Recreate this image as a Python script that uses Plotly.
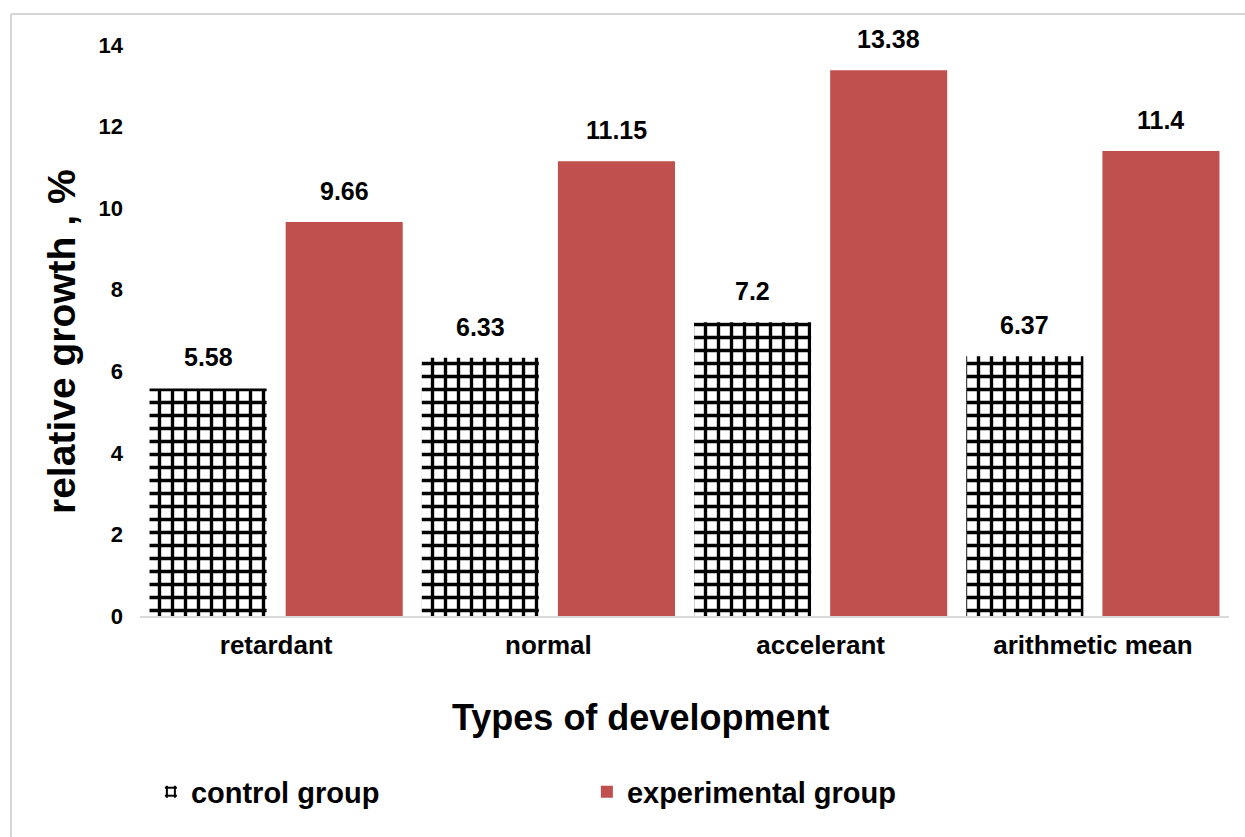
import plotly.graph_objects as go

categories = ["retardant", "normal", "accelerant", "arithmetic mean"]
control = [5.58, 6.33, 7.2, 6.37]
experimental = [9.66, 11.15, 13.38, 11.4]
series_names = ["control group", "experimental group"]
y_ticks = [0, 2, 4, 6, 8, 10, 12, 14]
x_title = "Types of development"
y_title = "relative growth , %"

W, H = 1245, 837
L, R, T, B = 140, 16, 45, 221
FONT = "Liberation Sans, Arial, sans-serif"
RED = "#C0504D"

fig = go.Figure()
fig.add_trace(go.Bar(
    x=categories, y=control, name=series_names[0],
    marker=dict(color="white", line=dict(width=0),
                pattern=dict(shape="+", fgcolor="black", bgcolor="white",
                             size=13, solidity=0.45, fillmode="replace")),
))
fig.add_trace(go.Bar(
    x=categories, y=experimental, name=series_names[1],
    marker=dict(color=RED, line=dict(width=0)),
))

plot_w = W - L - R
plot_h = H - T - B
slot = plot_w / len(categories) / 2
annotations = []
for vals, sh in ((control, -slot / 2), (experimental, slot / 2)):
    for c, v in zip(categories, vals):
        annotations.append(dict(
            x=c, y=v, xref="x", yref="y", text=str(v), showarrow=False,
            xshift=sh, yshift=15, yanchor="bottom",
            font=dict(family=FONT, size=25, color="black", weight="bold"),
        ))

annotations.append(dict(
    text=x_title, xref="paper", yref="paper",
    x=(640 - L) / plot_w, y=-(717 - (H - B)) / plot_h,
    xanchor="center", yanchor="middle", showarrow=False,
    font=dict(family=FONT, size=36, color="black", weight="bold"),
))
annotations.append(dict(
    text=y_title, xref="paper", yref="paper", textangle=-90,
    x=(62 - L) / plot_w, y=((H - B) - 342) / plot_h,
    xanchor="center", yanchor="middle", showarrow=False,
    font=dict(family=FONT, size=39, color="black", weight="bold"),
))

top_y = (H - B - 14) / plot_h
left_x = (11 - L) / plot_w
shapes = [
    dict(type="line", xref="paper", yref="paper",
         x0=left_x, x1=(W - L + 5) / plot_w, y0=top_y, y1=top_y,
         line=dict(color="#d6d6d6", width=2)),
    dict(type="line", xref="paper", yref="paper",
         x0=left_x, x1=left_x, y0=top_y, y1=-(B + 10) / plot_h,
         line=dict(color="#d6d6d6", width=2)),
]

fig.update_layout(
    width=W, height=H,
    margin=dict(l=L, r=R, t=T, b=B),
    paper_bgcolor="white", plot_bgcolor="white",
    barmode="group", bargap=0.0, bargroupgap=0.14,
    font=dict(family=FONT, color="black"),
    showlegend=True,
    legend=dict(orientation="h", x=0.01, xanchor="left", y=-0.308, yanchor="middle",
                entrywidth=391, entrywidthmode="pixels",
                font=dict(family=FONT, size=29, color="black", weight="bold"),
                itemsizing="constant"),
    annotations=annotations,
    shapes=shapes,
    xaxis=dict(showline=True, linecolor="#d9d9d9", linewidth=2, showgrid=False,
               ticks="", ticklabelstandoff=5,
               tickfont=dict(family=FONT, size=26, color="black", weight="bold")),
    yaxis=dict(range=[0, 14], tickvals=y_ticks, showgrid=False, zeroline=False,
               showline=False, ticks="", ticklabelstandoff=16,
               tickfont=dict(family=FONT, size=22, color="black", weight="bold")),
)

fig.write_html("out.html")
